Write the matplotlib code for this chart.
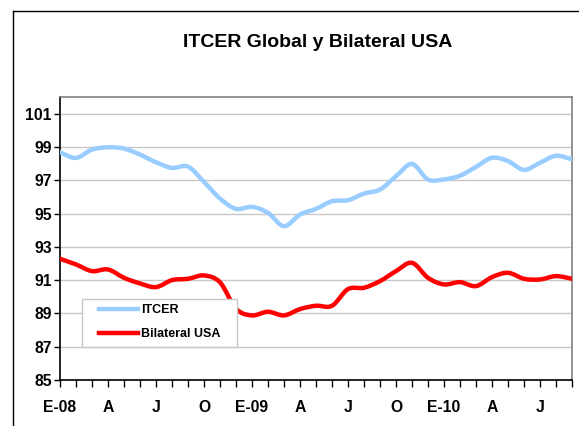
import numpy as np
import matplotlib
matplotlib.use("Agg")
import matplotlib.pyplot as plt
from matplotlib.path import Path
from matplotlib.patches import PathPatch, Rectangle
from matplotlib.lines import Line2D

plt.rcParams["font.family"] = ["Liberation Sans", "DejaVu Sans"]

# Monthly data, Jan 2008 - Sep 2010
month_labels = ["E-08", "", "", "A", "", "", "J", "", "", "O", "", "",
                "E-09", "", "", "A", "", "", "J", "", "", "O", "", "",
                "E-10", "", "", "A", "", "", "J", "", ""]
itcer = [98.68, 98.34, 98.84, 98.98, 98.9, 98.54, 98.08, 97.74, 97.82, 96.9, 95.9,
         95.28, 95.4, 95.04, 94.24, 94.94, 95.28, 95.74, 95.8, 96.2, 96.44, 97.24,
         97.98, 97.04, 97.05, 97.27, 97.8, 98.35, 98.15, 97.62, 98.05, 98.47, 98.25]
bilateral = [92.28, 91.94, 91.54, 91.64, 91.14, 90.8, 90.58, 91.0, 91.08, 91.28, 90.87,
             89.28, 88.88, 89.1, 88.88, 89.26, 89.46, 89.46, 90.46, 90.54, 90.94, 91.54,
             92.04, 91.14, 90.74, 90.88, 90.64, 91.18, 91.44, 91.08, 91.04, 91.24, 91.08]
y_ticks = [85, 87, 89, 91, 93, 95, 97, 99, 101]

W, H = 579, 426


def smooth_path(x, y):
    # Excel-style smoothed line: Catmull-Rom segments as cubic Beziers
    n = len(x)
    verts = [(x[0], y[0])]
    codes = [Path.MOVETO]
    for i in range(n - 1):
        a = i - 1 if i > 0 else i
        d = i + 2 if i + 2 < n else i + 1
        c1 = (x[i] + (x[i + 1] - x[a]) / 6, y[i] + (y[i + 1] - y[a]) / 6)
        c2 = (x[i + 1] - (x[d] - x[i]) / 6, y[i + 1] - (y[d] - y[i]) / 6)
        verts += [c1, c2, (x[i + 1], y[i + 1])]
        codes += [Path.CURVE4] * 3
    return Path(verts, codes)


fig = plt.figure(figsize=(W / 100, H / 100), dpi=100)
ax = fig.add_axes([60 / W, 1 - 380 / H, 512 / W, 283 / H])

xs = np.arange(len(month_labels))
series = [("ITCER", itcer, "#99CCFF"), ("Bilateral USA", bilateral, "#FF0000")]
for name, vals, col in series:
    ax.add_patch(PathPatch(smooth_path(xs, vals), fill=False, edgecolor=col,
                           lw=3.2, capstyle="round", joinstyle="round", zorder=3))

ax.set_xlim(0, len(month_labels) - 1)
ax.set_ylim(85, 102)
ax.set_yticks(y_ticks)
ax.set_yticklabels([str(v) for v in y_ticks], fontsize=11.3, fontweight="bold")
ax.set_xticks(xs)
ax.set_xticklabels(month_labels, fontsize=11.3, fontweight="bold")
ax.tick_params(axis="x", direction="out", length=5, width=1, pad=9.5, color="black")
ax.tick_params(axis="y", direction="out", length=4, width=1, pad=2, color="black")
ax.grid(axis="y", color="#c8c8c8", lw=1)
ax.set_axisbelow(True)

for side in ["left", "bottom"]:
    ax.spines[side].set_color("black")
    ax.spines[side].set_linewidth(1.2)
for side in ["top", "right"]:
    ax.spines[side].set_color("#808080")
    ax.spines[side].set_linewidth(1.2)

# legend box
ax.add_patch(Rectangle(((82 - 60) / 512, (380 - 347) / 283), 155 / 512, 48 / 283,
                       transform=ax.transAxes, facecolor="white", edgecolor="#c8c8c8",
                       lw=1, zorder=5))
handles = [Line2D([], [], color=col, lw=3.2) for _, _, col in series]
leg = ax.legend(handles, [s[0] for s in series], loc="upper left",
                bbox_to_anchor=((99 - 60) / 512, (380 - 304) / 283), frameon=False,
                borderpad=0, borderaxespad=0, handlelength=3.1, handletextpad=0.25,
                labelspacing=0.95, prop={"weight": "bold", "size": 9})
leg.set_zorder(6)

fig.text(318 / W, 1 - 47 / H, "ITCER Global y Bilateral USA", ha="center",
         va="baseline", fontsize=14, fontweight="bold")

# outer chart border
fig.add_artist(Line2D([13 / W, 1], [1 - 11 / H, 1 - 11 / H], transform=fig.transFigure,
                      color="black", lw=1))
fig.add_artist(Line2D([13 / W, 13 / W], [0, 1 - 11 / H], transform=fig.transFigure,
                      color="black", lw=1))

fig.savefig("out.png", dpi=100)
